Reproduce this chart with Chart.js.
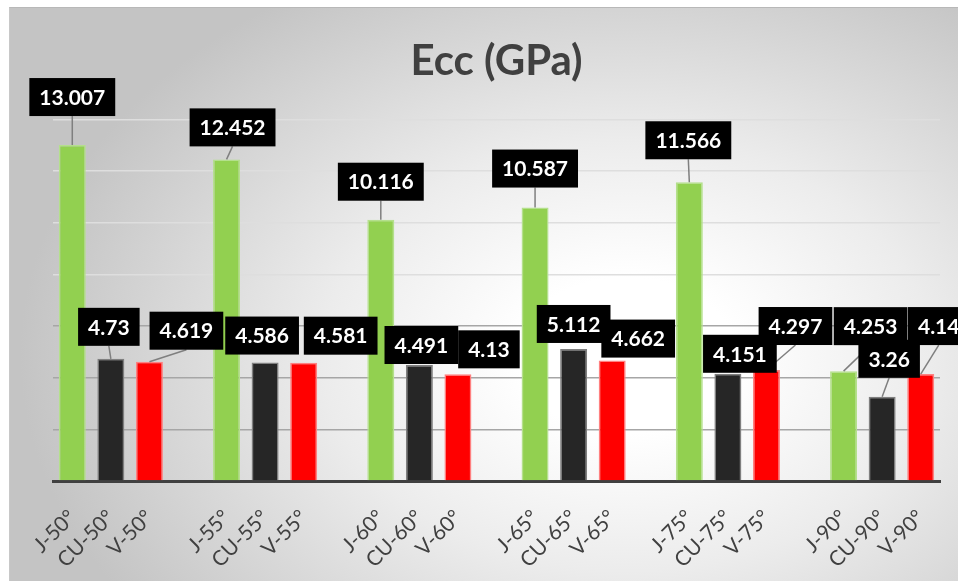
<!DOCTYPE html>
<html lang="en">
<head>
  <meta charset="UTF-8">
  <title>Ecc (GPa)</title>
  <script src="https://cdn.jsdelivr.net/npm/chart.js"></script>
  <style>
    * {
      margin: 0;
      padding: 0;
      box-sizing: border-box;
    }

    body {
      width: 958px;
      height: 581px;
      overflow: hidden;
      background: #fff;
      position: relative;
    }

    /* Excel style radial fill behind the chart */
    .chart-bg {
      position: absolute;
      left: 9px;
      top: 7px;
      width: 980px;
      height: 600px;
      border-top: 1px solid #b8b8b8;
      border-left: 1px solid #c8c8c8;
      background: radial-gradient(ellipse 62% 72% at 63% 58%, #ffffff 18%, #ececec 50%, #c4c4c4 100%);
    }

    canvas {
      position: absolute;
      left: 0;
      top: 0;
    }
  </style>
</head>
<body>
  <div class="chart-bg"></div>
  <canvas id="eccChart" width="958" height="581"></canvas>

  <script>
    // values, one per angle
    const angles = ['50°', '55°', '60°', '65°', '75°', '90°'];
    const materials = ['J', 'CU', 'V'];
    const jValues = [13.007, 12.452, 10.116, 10.587, 11.566, 4.253];
    const cuValues = [4.73, 4.586, 4.491, 5.112, 4.151, 3.26];
    const vValues = [4.619, 4.581, 4.13, 4.662, 4.297, 4.14];
    const yTicks = [0, 2, 4, 6, 8, 10, 12, 14];

    const barColors = { J: '#92d050', CU: '#262626', V: '#ff0000' };
    const barBorders = { J: '#b4e08c', CU: '#7f7f7f', V: '#ff8080' };

    // where each data label sits relative to the top of its bar (dragged by hand in the original)
    const labelShift = {
      J:  [[0, -48], [6, -32], [0, -38], [0, -39], [-1, -42], [27, -45]],
      CU: [[-2, -32], [-3, -27], [2, -20], [0, -25], [12, -20], [7, -38]],
      V:  [[37, -31], [37, -27], [31, -25], [26, -22], [29, -44], [18, -48]]
    };

    // categories: three bars per angle, one empty slot between groups
    const categories = [];
    const slotOf = []; // slotOf[group][material]
    angles.forEach((a, g) => {
      slotOf.push([]);
      materials.forEach((m) => {
        slotOf[g].push(categories.length);
        categories.push(m + '-' + a);
      });
      if (g < angles.length - 1) categories.push('');
    });

    const seriesValues = { J: jValues, CU: cuValues, V: vValues };
    const datasets = materials.map((m, mi) => {
      const data = categories.map(() => null);
      seriesValues[m].forEach((v, g) => { data[slotOf[g][mi]] = v; });
      return {
        label: m,
        data: data,
        backgroundColor: barColors[m],
        borderColor: barBorders[m],
        borderWidth: 1.5,
        barPercentage: 0.7,
        categoryPercentage: 1.0
      };
    });

    const boxLabels = {
      id: 'boxLabels',
      afterDatasetsDraw(chart) {
        const ctx = chart.ctx;
        const items = [];
        ctx.save();
        ctx.font = 'bold 21px Lato';
        chart.data.datasets.forEach((ds, di) => {
          const meta = chart.getDatasetMeta(di);
          const m = materials[di];
          let g = 0;
          ds.data.forEach((v, i) => {
            if (v === null) return;
            const bar = meta.data[i];
            const s = labelShift[m][g];
            const text = String(v);
            const w = ctx.measureText(text).width + 20;
            const h = 38;
            items.push({ text, w, h, cx: bar.x + s[0], cy: bar.y + s[1], bx: bar.x, by: bar.y });
            g++;
          });
        });

        // leader lines only when the box sits well above its bar
        ctx.strokeStyle = '#7f7f7f';
        ctx.lineWidth = 1.5;
        items.forEach((it) => {
          const lx = it.cx;
          const ly = it.cy + it.h / 2;
          if (it.by - ly <= 10) return;
          ctx.beginPath();
          ctx.moveTo(lx, ly);
          ctx.lineTo(it.bx, it.by);
          ctx.stroke();
        });

        ctx.textAlign = 'center';
        ctx.textBaseline = 'middle';
        items.forEach((it) => {
          ctx.fillStyle = '#000';
          ctx.fillRect(it.cx - it.w / 2, it.cy - it.h / 2, it.w, it.h);
          ctx.fillStyle = '#fff';
          ctx.fillText(it.text, it.cx, it.cy + 1);
        });
        ctx.restore();
      }
    };

    const ctx = document.getElementById('eccChart').getContext('2d');
    new Chart(ctx, {
      type: 'bar',
      data: {
        labels: categories,
        datasets: datasets
      },
      options: {
        responsive: false,
        animation: false,
        layout: {
          padding: { left: 53, right: 18, top: 0, bottom: 0 }
        },
        plugins: {
          legend: { display: false },
          tooltip: { enabled: false },
          title: {
            display: true,
            text: 'Ecc (GPa)',
            color: '#404040',
            font: { family: 'Lato', size: 42, weight: 'bold', lineHeight: 1.2 },
            padding: { top: 36, bottom: 33 }
          }
        },
        scales: {
          x: {
            stacked: true,
            grid: { display: false },
            border: { display: true, color: '#404040', width: 3 },
            ticks: {
              color: '#404040',
              font: { family: 'Lato', size: 21 },
              minRotation: 45,
              maxRotation: 45,
              autoSkip: false,
              padding: 16
            },
            afterFit(scale) { scale.height = 100; }
          },
          y: {
            stacked: true,
            min: 0,
            max: 14,
            afterBuildTicks(scale) { scale.ticks = yTicks.map((v) => ({ value: v })); },
            ticks: { display: false },
            border: { display: false },
            grid: {
              drawTicks: false,
              lineWidth: 1.5,
              color: (c) => (c.tick && c.tick.value >= 8 ? '#dedede' : '#a6a6a6')
            },
            afterFit(scale) { scale.width = 0; }
          }
        }
      },
      plugins: [boxLabels]
    });
  </script>
</body>
</html>
